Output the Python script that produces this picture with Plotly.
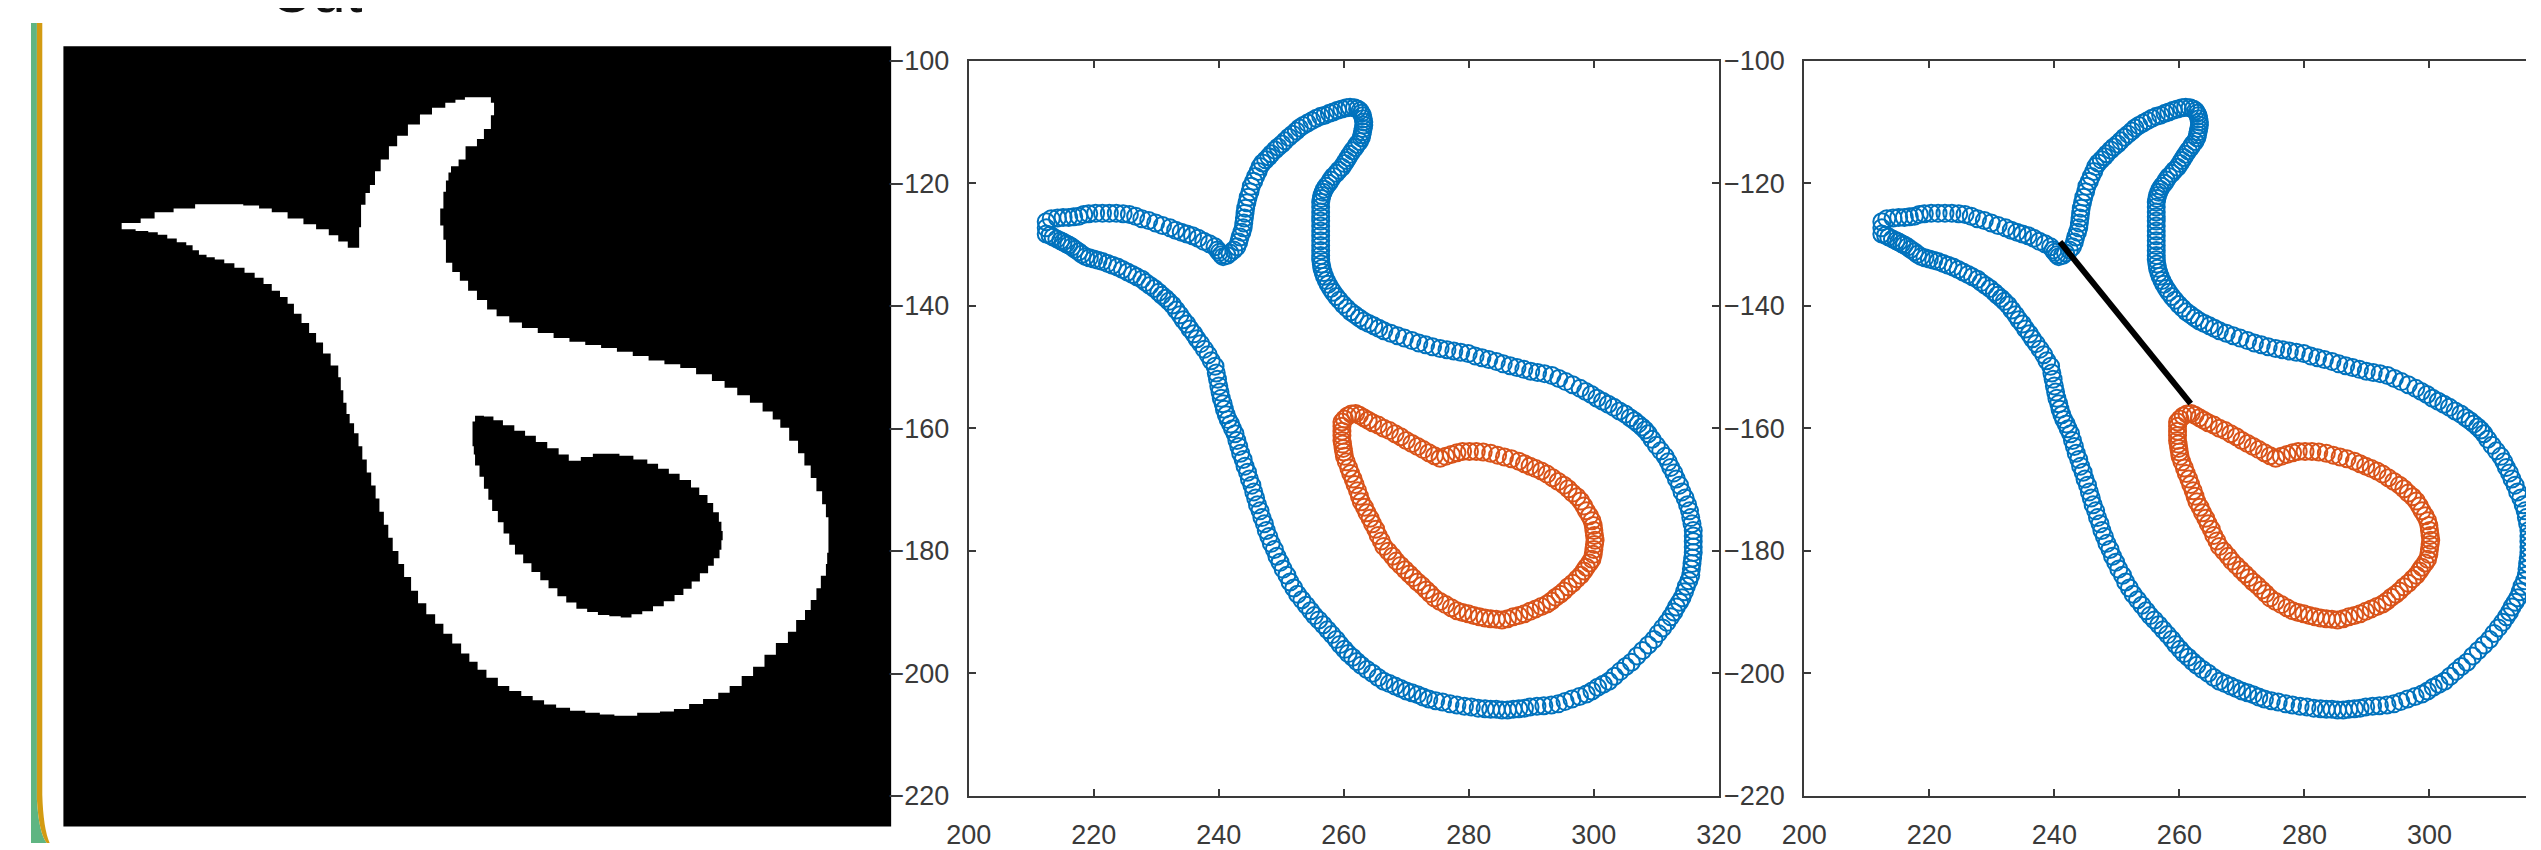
import plotly.graph_objects as go

W, H = 2541, 850

# ---------------- data ----------------
xticks = [200, 220, 240, 260, 280, 300, 320]
yticks = [-100, -120, -140, -160, -180, -200, -220]

# boundary of the white region (outer contour)
blue_contour = [
    (212.4,-127.3),(212.4,-126.3),(213.2,-125.8),(214.2,-125.7),(215.1,-125.6),(216.0,-125.6),(216.8,-125.5),
    (217.6,-125.4),(218.4,-125.1),(219.2,-125.0),(220.3,-124.9),(221.4,-124.9),(222.5,-124.9),(223.6,-124.9),
    (224.7,-125.0),(225.7,-125.1),(226.7,-125.4),(227.7,-125.8),(228.8,-126.1),(229.9,-126.5),(231.0,-126.9),
    (232.2,-127.3),(233.1,-127.7),(234.0,-128.0),(234.9,-128.3),(235.8,-128.6),(236.7,-129.0),(237.6,-129.5),
    (238.5,-129.9),(239.4,-130.4),(239.8,-130.9),(240.1,-131.3),(240.4,-131.7),(240.7,-132.0),(241.3,-131.8),
    (241.8,-131.4),(242.4,-130.9),(242.9,-130.4),(243.2,-129.6),(243.4,-128.8),(243.7,-128.0),(243.9,-127.3),
    (244.0,-126.5),(244.1,-125.7),(244.2,-124.9),(244.3,-124.1),(244.5,-123.2),(244.7,-122.3),(245.0,-121.4),
    (245.2,-120.5),(245.6,-119.7),(245.9,-118.9),(246.3,-118.1),(246.6,-117.3),(247.0,-116.7),(247.5,-116.2),
    (248.0,-115.7),(248.4,-115.2),(249.0,-114.6),(249.5,-114.1),(250.1,-113.6),(250.6,-113.1),(251.2,-112.5),
    (251.8,-112.0),(252.4,-111.5),(252.9,-111.0),(253.5,-110.6),(254.2,-110.2),(254.9,-109.8),(255.6,-109.4),
    (256.3,-109.1),(257.0,-108.9),(257.7,-108.6),(258.3,-108.4),(259.0,-108.1),(259.7,-107.9),(260.4,-107.7),
    (261.0,-107.6),(261.7,-107.7),(262.2,-107.9),(262.6,-108.2),(262.8,-108.6),(263.0,-109.0),(263.1,-109.5),
    (263.2,-110.0),(263.2,-110.5),(263.1,-111.1),(263.0,-111.6),(262.9,-112.1),(262.8,-112.6),(262.5,-113.2),
    (262.1,-113.7),(261.8,-114.2),(261.4,-114.7),(261.0,-115.3),(260.7,-115.8),(260.4,-116.3),(260.1,-116.8),
    (259.7,-117.4),(259.2,-117.9),(258.8,-118.4),(258.3,-118.9),(257.9,-119.5),(257.6,-120.0),(257.2,-120.5),
    (256.9,-121.0),(256.7,-121.5),(256.5,-122.0),(256.4,-122.5),(256.3,-123.1),(256.3,-123.9),(256.3,-124.7),
    (256.3,-125.5),(256.3,-126.2),(256.3,-127.0),(256.3,-127.8),(256.3,-128.6),(256.3,-129.4),(256.3,-130.2),
    (256.3,-131.0),(256.3,-131.8),(256.3,-132.5),(256.4,-133.2),(256.5,-133.9),(256.7,-134.6),(256.9,-135.2),
    (257.2,-135.9),(257.5,-136.5),(257.9,-137.2),(258.3,-137.8),(258.8,-138.5),(259.3,-139.1),(259.9,-139.8),
    (260.5,-140.4),(261.1,-141.0),(261.8,-141.5),(262.5,-142.0),(263.2,-142.5),(264.0,-142.9),(264.8,-143.3),
    (265.6,-143.7),(266.4,-144.1),(267.5,-144.5),(268.6,-144.9),(269.7,-145.3),(270.9,-145.7),(272.0,-146.1),
    (273.1,-146.4),(274.2,-146.7),(275.4,-147.0),(276.5,-147.2),(277.6,-147.4),(278.7,-147.6),(279.9,-147.8),
    (281.0,-148.2),(282.1,-148.5),(283.2,-148.8),(284.4,-149.1),(285.5,-149.5),(286.6,-149.8),(287.7,-150.1),
    (288.8,-150.4),(289.9,-150.7),(291.0,-150.9),(292.1,-151.1),(293.3,-151.4),(294.4,-151.9),(295.5,-152.4),
    (296.6,-152.9),(297.8,-153.5),(298.7,-154.0),(299.6,-154.5),(300.5,-155.1),(301.4,-155.6),(302.3,-156.1),
    (303.2,-156.6),(304.1,-157.2),(305.0,-157.7),(305.8,-158.3),(306.5,-158.8),(307.1,-159.3),(307.7,-159.8),
    (308.2,-160.3),(308.7,-160.9),(309.3,-161.8),(310.0,-162.8),(310.7,-163.7),(311.4,-164.6),(311.9,-165.5),
    (312.3,-166.4),(312.8,-167.3),(313.2,-168.3),(313.7,-169.3),(314.1,-170.4),(314.6,-171.4),(315.0,-172.5),
    (315.3,-173.5),(315.5,-174.6),(315.7,-175.6),(315.9,-176.7),(315.9,-177.6),(315.9,-178.5),(315.9,-179.4),
    (315.9,-180.3),(315.8,-181.2),(315.7,-182.1),(315.6,-183.0),(315.5,-184.0),(315.2,-184.9),(314.8,-185.8),
    (314.5,-186.7),(314.1,-187.7),(313.7,-188.4),(313.2,-189.2),(312.8,-190.0),(312.3,-190.8),(311.7,-191.7),
    (311.0,-192.6),(310.3,-193.5),(309.6,-194.5),(308.7,-195.4),(307.8,-196.3),(306.9,-197.2),(306.0,-198.2),
    (305.1,-198.9),(304.2,-199.7),(303.3,-200.5),(302.4,-201.3),(301.5,-201.8),(300.6,-202.3),(299.7,-202.9),
    (298.8,-203.4),(297.7,-203.8),(296.5,-204.2),(295.4,-204.6),(294.3,-205.0),(293.2,-205.2),(292.0,-205.3),
    (290.9,-205.4),(289.8,-205.5),(288.9,-205.7),(288.0,-205.8),(287.1,-205.9),(286.2,-206.0),(285.3,-206.0),
    (284.4,-205.9),(283.5,-205.9),(282.6,-205.8),(281.5,-205.7),(280.4,-205.5),(279.3,-205.4),(278.1,-205.2),
    (277.0,-205.0),(275.8,-204.7),(274.7,-204.5),(273.6,-204.2),(272.7,-203.9),(271.8,-203.5),(270.9,-203.2),
    (270.0,-202.9),(269.1,-202.5),(268.2,-202.1),(267.3,-201.7),(266.4,-201.3),(265.5,-200.7),(264.6,-200.0),
    (263.7,-199.4),(262.8,-198.7),(262.1,-198.1),(261.4,-197.4),(260.7,-196.8),(260.1,-196.1),(259.4,-195.3),
    (258.8,-194.5),(258.1,-193.7),(257.4,-192.9),(256.7,-192.1),(256.0,-191.3),(255.3,-190.6),(254.7,-189.8),
    (254.0,-188.9),(253.3,-188.0),(252.6,-187.1),(252.0,-186.1),(251.4,-185.1),(250.9,-184.0),(250.3,-183.0),
    (249.8,-181.9),(249.3,-180.9),(248.9,-179.8),(248.4,-178.8),(248.0,-177.7),(247.6,-176.7),(247.3,-175.6),
    (246.9,-174.6),(246.6,-173.5),(246.2,-172.5),(245.9,-171.4),(245.6,-170.4),(245.3,-169.3),(244.9,-168.3),
    (244.6,-167.2),(244.2,-166.2),(243.9,-165.1),(243.5,-164.1),(243.2,-163.0),(242.9,-162.0),(242.6,-160.9),
    (242.2,-160.1),(241.9,-159.3),(241.5,-158.6),(241.2,-157.8),(240.9,-156.9),(240.7,-156.0),(240.4,-155.1),
    (240.2,-154.1),(240.0,-153.1),(239.8,-152.0),(239.6,-151.0),(239.4,-149.9),(238.8,-149.0),(238.3,-148.0),
    (237.7,-147.1),(237.1,-146.2),(236.5,-145.4),(236.0,-144.6),(235.4,-143.8),(234.9,-143.0),(234.3,-142.3),
    (233.8,-141.5),(233.2,-140.7),(232.6,-139.9),(232.0,-139.3),(231.5,-138.8),(230.9,-138.3),(230.4,-137.8),
    (229.7,-137.2),(229.0,-136.7),(228.3,-136.2),(227.7,-135.7),(226.9,-135.3),(226.2,-134.9),(225.4,-134.5),
    (224.6,-134.1),(223.8,-133.7),(223.0,-133.4),(222.2,-133.1),(221.4,-132.8),(220.7,-132.6),(220.0,-132.4),
    (219.3,-132.2),(218.7,-132.0),(218.1,-131.6),(217.6,-131.2),(217.0,-130.8),(216.5,-130.4),(216.0,-130.1),
    (215.6,-129.9),(215.1,-129.6),(214.7,-129.4),(214.1,-129.1),(213.5,-128.8),(213.0,-128.5),(212.4,-128.3),
]

# boundary around the hole (inner contour)
orange_contour = [
    (261.9,-157.6),(262.5,-157.9),(263.2,-158.3),(263.9,-158.7),(264.6,-159.1),(265.5,-159.5),(266.4,-160.0),
    (267.3,-160.4),(268.2,-160.9),(269.1,-161.4),(270.0,-162.0),(270.9,-162.5),(271.8,-163.0),(272.7,-163.5),
    (273.6,-164.0),(274.5,-164.5),(275.4,-164.9),(276.3,-164.6),(277.2,-164.3),(278.1,-164.0),(279.0,-163.8),
    (280.1,-163.8),(281.2,-163.8),(282.3,-163.9),(283.5,-164.1),(284.6,-164.4),(285.7,-164.7),(286.8,-165.0),
    (288.0,-165.4),(288.9,-165.8),(289.8,-166.2),(290.7,-166.6),(291.6,-167.0),(292.5,-167.5),(293.4,-168.1),
    (294.3,-168.7),(295.2,-169.3),(295.9,-169.9),(296.6,-170.6),(297.3,-171.2),(297.9,-171.9),(298.4,-172.7),
    (298.8,-173.5),(299.3,-174.3),(299.7,-175.1),(299.9,-175.9),(300.0,-176.7),(300.1,-177.5),(300.2,-178.3),
    (300.1,-179.0),(300.0,-179.8),(299.9,-180.6),(299.7,-181.4),(299.3,-182.0),(298.8,-182.7),(298.4,-183.3),
    (297.9,-184.0),(297.3,-184.6),(296.6,-185.3),(295.9,-185.9),(295.2,-186.6),(294.6,-187.1),(293.9,-187.6),
    (293.2,-188.2),(292.5,-188.7),(291.6,-189.1),(290.7,-189.5),(289.8,-189.9),(288.9,-190.3),(288.0,-190.6),
    (287.1,-190.8),(286.2,-191.1),(285.3,-191.3),(284.4,-191.2),(283.5,-191.1),(282.6,-191.0),(281.7,-190.8),
    (280.8,-190.6),(279.9,-190.3),(279.0,-190.1),(278.1,-189.8),(277.2,-189.3),(276.3,-188.8),(275.4,-188.3),
    (274.5,-187.7),(273.8,-187.0),(273.2,-186.4),(272.5,-185.7),(271.8,-185.1),(271.1,-184.4),(270.5,-183.8),
    (269.8,-183.1),(269.1,-182.4),(268.4,-181.7),(267.8,-180.9),(267.1,-180.1),(266.4,-179.3),(266.0,-178.4),
    (265.5,-177.5),(265.1,-176.5),(264.6,-175.6),(264.2,-174.7),(263.7,-173.8),(263.3,-172.9),(262.8,-172.0),
    (262.5,-171.1),(262.2,-170.2),(261.8,-169.2),(261.5,-168.3),(261.1,-167.4),(260.8,-166.5),(260.4,-165.5),
    (260.1,-164.6),(260.0,-163.9),(259.9,-163.3),(259.8,-162.6),(259.7,-162.0),(259.7,-161.2),(259.7,-160.5),
    (259.7,-159.7),(259.7,-159.0),(260.1,-158.5),(260.6,-158.0),(261.2,-157.7),
]

# outline of the white region in the binary picture (left panel)
image_outline = [
    (204.8,-127.3),(207.8,-126.6),(210.0,-125.6),(213.0,-125.0),(216.4,-124.3),(219.0,-124.3),(221.5,-124.3),
    (224.0,-124.5),(226.5,-125.0),(228.5,-125.6),(231.0,-126.6),(233.5,-127.5),(235.5,-128.3),(237.5,-129.3),
    (239.0,-130.3),(240.5,-131.3),(241.6,-131.3),(242.3,-128.0),(242.6,-124.4),(243.3,-122.5),(244.0,-121.2),
    (244.8,-119.0),(245.7,-117.1),(247.0,-115.0),(248.3,-113.3),(250.0,-111.5),(251.9,-109.9),(253.8,-108.8),
    (255.9,-108.0),(257.5,-107.5),(259.0,-107.1),(261.8,-107.1),(263.1,-108.0),(263.6,-110.0),(263.1,-112.2),
    (262.0,-113.8),(260.9,-115.0),(259.1,-117.1),(258.0,-118.2),(256.8,-119.2),(256.4,-120.5),(256.0,-122.3),
    (255.6,-125.0),(255.1,-127.7),(255.6,-130.0),(256.0,-133.7),(257.0,-135.2),(258.2,-136.6),(259.5,-138.2),
    (260.9,-139.7),(262.5,-141.2),(264.0,-142.3),(266.0,-143.3),(268.0,-144.2),(270.5,-145.0),(273.0,-145.8),
    (275.5,-146.4),(278.0,-146.9),(280.5,-147.4),(283.0,-148.0),(285.5,-148.7),(288.0,-149.4),(290.5,-150.0),
    (293.0,-150.6),(295.5,-151.6),(298.0,-152.7),(300.0,-153.8),(302.0,-155.0),(304.0,-156.2),(306.0,-157.6),
    (307.6,-158.9),(308.8,-160.2),(310.2,-162.3),(311.6,-164.3),(312.6,-166.3),(313.6,-168.3),(314.5,-170.4),
    (315.4,-172.5),(316.0,-174.6),(316.4,-176.7),(316.4,-180.3),(316.2,-182.1),(316.0,-184.0),(315.2,-186.0),
    (314.5,-187.9),(313.6,-189.5),(312.7,-191.1),(311.3,-193.0),(310.0,-194.8),(308.1,-196.7),(306.3,-198.6),
    (304.5,-200.1),(302.7,-201.7),(300.8,-202.8),(299.0,-203.8),(296.6,-204.6),(294.4,-205.4),(292.0,-205.8),
    (289.8,-206.0),(286.2,-206.5),(282.6,-206.3),(280.3,-206.0),(278.0,-205.7),(275.6,-205.2),(273.4,-204.7),
    (271.5,-204.0),(269.7,-203.3),(267.9,-202.5),(266.0,-201.7),(264.2,-200.4),(262.4,-199.1),(261.0,-197.8),
    (259.7,-196.5),(258.4,-194.9),(257.0,-193.3),(255.6,-191.7),(254.3,-190.2),(252.9,-188.4),(251.6,-186.4),
    (250.5,-184.2),(249.4,-182.1),(248.5,-180.0),(247.6,-177.9),(246.9,-175.8),(246.2,-173.7),(245.5,-171.6),
    (244.9,-169.5),(244.2,-167.4),(243.5,-165.3),(242.8,-163.2),(242.2,-161.1),(241.5,-159.5),(240.8,-158.0),
    (240.3,-156.2),(239.8,-154.2),(239.4,-152.1),(239.0,-150.2),(237.8,-148.3),(236.6,-146.5),(235.5,-145.0),
    (234.4,-143.4),(233.2,-141.9),(232.0,-140.3),(231.0,-139.2),(229.8,-138.2),(228.5,-137.1),(227.2,-136.1),
    (225.8,-135.3),(224.2,-134.5),(222.6,-133.8),(221.0,-133.2),(219.5,-132.8),(218.2,-132.4),(217.0,-131.7),
    (216.0,-130.9),(215.0,-130.4),(213.5,-129.8),(212.0,-129.2),(210.5,-128.8),(209.0,-128.6),(207.0,-128.3),
    (204.8,-128.2),
]

image_hole = [
    (260.6,-158.3),(262.0,-158.4),(263.5,-159.0),(265.0,-159.8),(266.8,-160.7),(268.5,-161.5),(270.2,-162.5),
    (272.0,-163.5),(273.8,-164.5),(275.4,-165.5),(277.3,-164.9),(279.2,-164.4),(281.2,-164.4),(283.4,-164.7),
    (285.6,-165.3),(287.8,-166.0),(289.5,-166.8),(291.2,-167.6),(292.9,-168.6),(294.7,-169.8),(296.0,-171.0),
    (297.3,-172.3),(298.2,-173.8),(299.1,-175.3),(299.5,-176.8),(299.7,-178.3),(299.5,-179.8),(299.2,-181.2),
    (298.3,-182.4),(297.4,-183.6),(296.1,-184.9),(294.8,-186.1),(293.5,-187.1),(292.1,-188.1),(290.4,-188.9),
    (288.7,-189.7),(287.0,-190.2),(285.3,-190.7),(283.6,-190.5),(281.8,-190.3),(280.0,-189.8),(278.3,-189.3),
    (276.6,-188.3),(275.0,-187.3),(273.6,-186.0),(272.2,-184.7),(270.9,-183.4),(269.5,-182.0),(268.2,-180.6),
    (266.9,-179.0),(266.0,-177.2),(265.1,-175.4),(264.2,-173.6),(263.3,-171.8),(262.7,-170.0),(262.0,-168.1),
    (261.3,-166.3),(260.6,-164.5),(260.4,-163.2),(260.2,-162.0),(260.2,-160.5),(260.2,-159.2),
]

cut_x = [240.9, 261.8]
cut_y = [-129.6, -156.0]

BLUE = "#0072BD"
ORANGE = "#D95319"
AXC = "#3a3a3a"
TXT = "#3a3a3a"


def xs(pts, close=False):
    v = [p[0] for p in pts]
    return v + [v[0]] if close else v


def ys(pts, close=False):
    v = [p[1] for p in pts]
    return v + [v[0]] if close else v


fig = go.Figure()

# ---- left panel: binary picture ----
fig.add_trace(go.Scatter(x=xs(image_outline, True), y=ys(image_outline, True), mode="lines",
                         line=dict(color="white", width=0, shape="hv"), fill="toself",
                         fillcolor="white", xaxis="x", yaxis="y", hoverinfo="skip"))
fig.add_trace(go.Scatter(x=xs(image_hole, True), y=ys(image_hole, True), mode="lines",
                         line=dict(color="black", width=0, shape="hv"), fill="toself",
                         fillcolor="black", xaxis="x", yaxis="y", hoverinfo="skip"))


def mk(c):
    return dict(symbol="circle-open", size=17, color=c, line=dict(width=2, color=c))


# ---- middle panel ----
fig.add_trace(go.Scatter(x=xs(blue_contour), y=ys(blue_contour), mode="markers",
                         marker=mk(BLUE), xaxis="x2", yaxis="y2"))
fig.add_trace(go.Scatter(x=xs(orange_contour), y=ys(orange_contour), mode="markers",
                         marker=mk(ORANGE), xaxis="x2", yaxis="y2"))

# ---- right panel ----
fig.add_trace(go.Scatter(x=xs(blue_contour), y=ys(blue_contour), mode="markers",
                         marker=mk(BLUE), xaxis="x3", yaxis="y3"))
fig.add_trace(go.Scatter(x=xs(orange_contour), y=ys(orange_contour), mode="markers",
                         marker=mk(ORANGE), xaxis="x3", yaxis="y3"))
fig.add_trace(go.Scatter(x=cut_x, y=cut_y, mode="lines", line=dict(color="black", width=6),
                         xaxis="x3", yaxis="y3"))


def px(x):
    return x / W


def py(y):
    return 1 - y / H


font = dict(family="Liberation Sans, Arial, sans-serif", size=27, color=TXT)

common_x = dict(range=[200, 320], tickvals=xticks, ticks="inside", ticklen=7, tickwidth=1.5,
                tickcolor=AXC, showline=True, linecolor=AXC, linewidth=2, showgrid=False,
                zeroline=False, tickfont=font, ticklabelstandoff=14)
common_y = dict(range=[-220, -100], tickvals=yticks, ticks="inside", ticklen=7, tickwidth=1.5,
                tickcolor=AXC, showline=True, linecolor=AXC, linewidth=2, showgrid=False,
                zeroline=False, tickfont=font, ticklabelstandoff=12)

fig.update_layout(
    width=W, height=H, margin=dict(l=0, r=0, t=0, b=0),
    paper_bgcolor="white", plot_bgcolor="white", showlegend=False,
    xaxis=dict(domain=[px(33), px(876)], range=[195.6, 326.3], visible=False, fixedrange=True),
    yaxis=dict(domain=[py(833), py(24)], range=[-224.3, -98.9], visible=False, fixedrange=True),
    xaxis2=dict(domain=[px(955), px(1719)], anchor="y2", mirror="ticks", **common_x),
    yaxis2=dict(domain=[py(801), py(39)], anchor="x2", mirror="ticks", **common_y),
    xaxis3=dict(domain=[px(1806), 1.0], anchor="y3", mirror="ticks",
                **{**common_x, "range": [200, 200 + (W - 1806) / 6.367]}),
    yaxis3=dict(domain=[py(801), py(39)], anchor="x3", mirror=False, **common_y),
    shapes=[
        dict(type="rect", xref="paper", yref="paper", x0=px(33), x1=px(876), y0=py(833), y1=py(24),
             fillcolor="black", line=dict(width=0), layer="below"),
        dict(type="path", xref="paper", yref="paper",
             path=f"M 0,1 L {px(6)},1 L {px(6)},{py(805)} Q {px(8)},{py(840)} {px(16)},0 L 0,0 Z",
             fillcolor="#5fb582", line=dict(width=0), layer="above"),
        dict(type="path", xref="paper", yref="paper",
             path=f"M {px(6)},1 L {px(11.5)},1 L {px(11.5)},{py(800)} Q {px(12.5)},{py(835)} {px(19)},0 "
                  f"L {px(16)},0 Q {px(8)},{py(840)} {px(6)},{py(805)} Z",
             fillcolor="#d39b12", line=dict(width=0), layer="above"),
    ],
    annotations=[
        dict(text="Cut", xref="paper", yref="paper", x=px(241), y=py(3), xanchor="left",
             yanchor="bottom", showarrow=False, borderpad=0,
             font=dict(family="Liberation Sans, Arial, sans-serif", size=60, color="#111111")),
    ],
)

fig.write_html("out.html")
